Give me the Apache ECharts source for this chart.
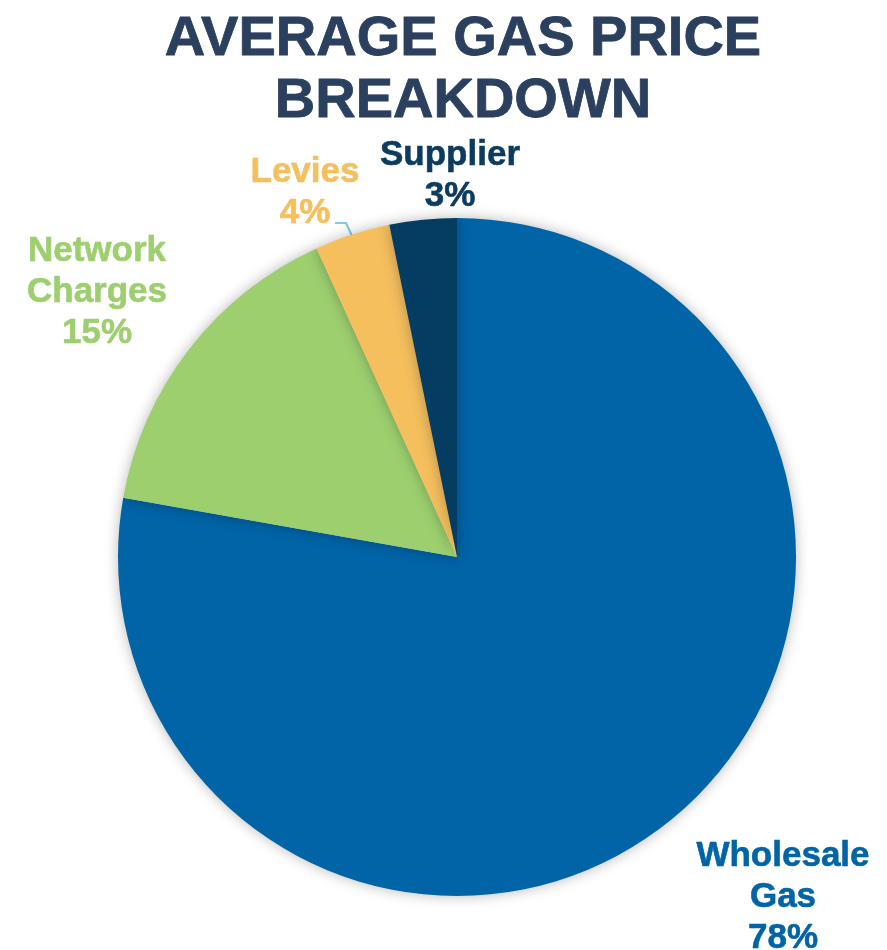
<!DOCTYPE html>
<html>
<head>
<meta charset="utf-8">
<script src="https://cdn.jsdelivr.net/npm/echarts@6/dist/echarts.min.js"></script>
<style>
html,body{margin:0;padding:0;background:#fff;}
#chart{width:887px;height:950px;}
</style>
</head>
<body>
<div id="chart"></div>
<script>
const titleText = 'AVERAGE GAS PRICE\nBREAKDOWN';
const categories = ['Wholesale\nGas', 'Network\nCharges', 'Levies', 'Supplier'];
const values = [77.8, 15.4, 3.6, 3.2];
const percentLabels = ['78%', '15%', '4%', '3%'];
const sliceColors = ['#0064A7', '#9DCF6F', '#F5BF5E', '#053C61'];
const labelColors = ['#0064A7', '#9DCF6F', '#F5BF5E', '#0D3B5E'];
// label anchor positions (centre x, top y) in pixels
const labelPos = [[783, 836], [97, 231], [305, 152], [450, 135]];

const chart = echarts.init(document.getElementById('chart'), null, {renderer: 'canvas'});

const data = categories.map((c, i) => ({
  name: c,
  value: values[i],
  itemStyle: {color: sliceColors[i]},
  label: {color: labelColors[i], textBorderColor: labelColors[i], textBorderWidth: 0.6},
  labelLine: {show: i === 2, lineStyle: {color: '#7CC8F0', width: 2}}
}));

chart.setOption({
  backgroundColor: '#ffffff',
  title: {
    text: titleText,
    left: 458,
    top: 4,
    textAlign: 'center',
    textStyle: {
      fontFamily: 'Liberation Sans, Arial, sans-serif',
      fontWeight: 'bold',
      fontSize: 56,
      lineHeight: 62,
      color: '#2B3F5F',
      textBorderColor: '#2B3F5F',
      textBorderWidth: 0.8
    }
  },
  series: [{
    type: 'pie',
    center: [457, 557],
    radius: 339,
    startAngle: 90,
    clockwise: true,
    animation: false,
    silent: true,
    itemStyle: {
      shadowBlur: 14,
      shadowColor: 'rgba(0,0,0,0.28)',
      borderWidth: 0
    },
    label: {
      show: true,
      position: 'outside',
      alignTo: 'none',
      overflow: 'none',
      formatter: p => p.name + '\n' + percentLabels[p.dataIndex],
      fontFamily: 'Liberation Sans, Arial, sans-serif',
      fontWeight: 'bold',
      fontSize: 35,
      lineHeight: 41,
      align: 'center'
    },
    labelLine: {length: 8, length2: 10, smooth: false},
    labelLayout: function (params) {
      const i = params.dataIndex;
      const p = labelPos[i];
      const out = {
        x: p[0],
        y: p[1],
        align: 'center',
        verticalAlign: 'top',
        width: 220
      };
      if (i === 2) {
        out.labelLinePoints = [[352, 236], [346, 223], [335, 223]];
      }
      return out;
    },
    data: data
  }]
});
</script>
</body>
</html>
